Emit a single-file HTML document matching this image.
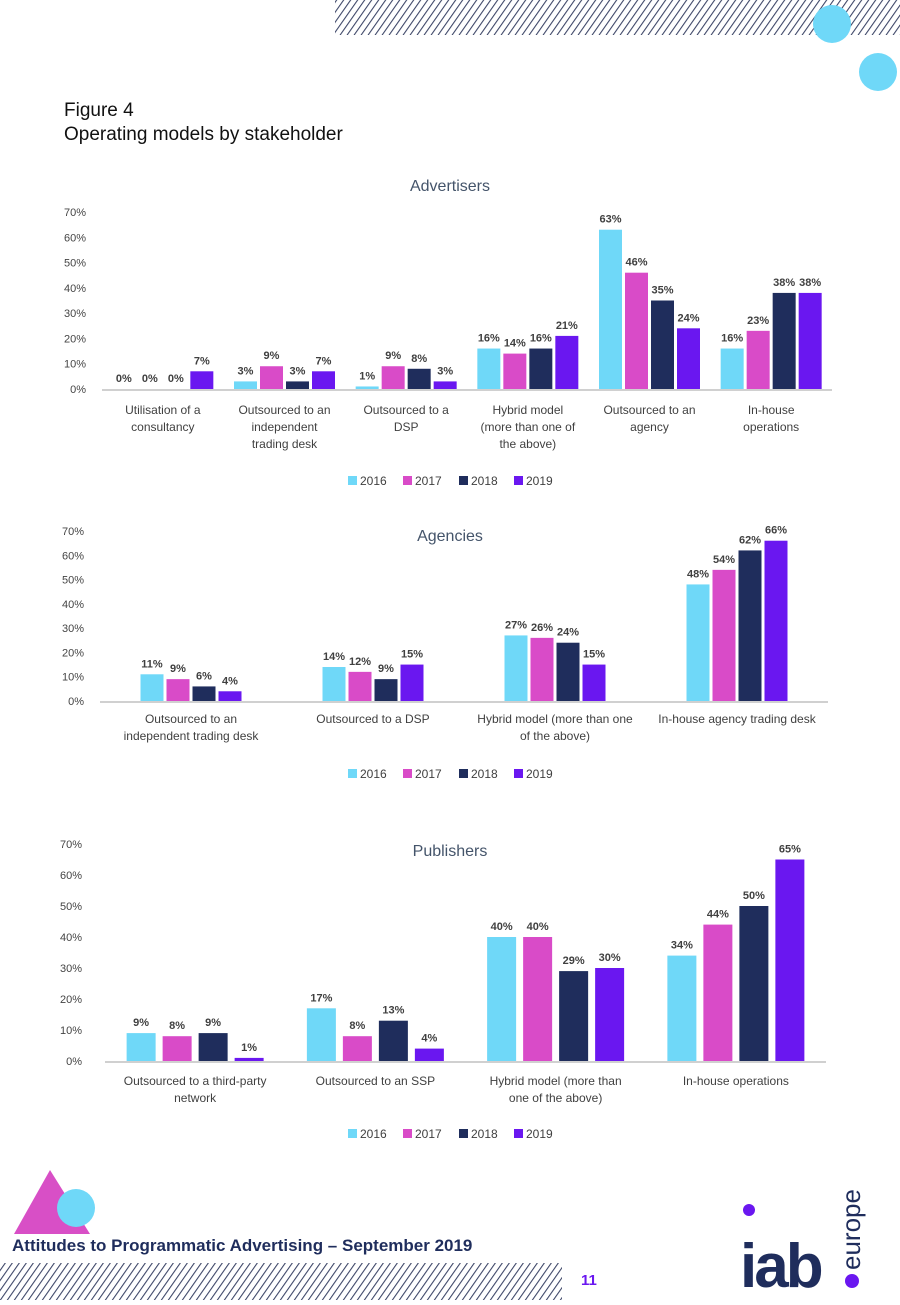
<!DOCTYPE html>
<html><head><meta charset="utf-8">
<style>
body{margin:0;background:#fff;}
svg text{font-family:"Liberation Sans",sans-serif;}
</style></head>
<body>
<svg id="page" width="900" height="1300" viewBox="0 0 900 1300" xmlns="http://www.w3.org/2000/svg">
<defs>
<pattern id="hatch" width="7" height="7" patternUnits="userSpaceOnUse" patternTransform="skewX(-35)">
<rect x="0" y="0" width="1.3" height="7" fill="#3b4466"/>
</pattern>
</defs>
<rect x="335" y="0" width="565" height="35" fill="url(#hatch)"/>
<circle cx="832" cy="24" r="19" fill="#6fd8f8"/>
<circle cx="878" cy="72" r="19" fill="#6fd8f8"/>
<text x="64" y="116" font-size="19" fill="#111">Figure 4</text>
<text x="64" y="140" font-size="19" fill="#111">Operating models by stakeholder</text>
<g id="c1"></g>
<g id="c2"></g>
<g id="c3"></g>
<polygon points="14,1234 50,1170 90,1234" fill="#d84fc6"/>
<circle cx="76" cy="1208" r="19" fill="#6fd8f8"/>
<text x="12" y="1251" font-size="17" font-weight="bold" fill="#1f2d5c">Attitudes to Programmatic Advertising – September 2019</text>
<rect x="0" y="1263" width="562" height="37" fill="url(#hatch)"/>
<text x="581" y="1285" font-size="15" font-weight="bold" fill="#6a17f0">11</text>
<g>
<text x="740" y="1287" font-size="62" font-weight="bold" fill="#1f2d5c" letter-spacing="-3">iab</text>
<circle cx="749" cy="1210" r="6" fill="#6a17f0"/>
<circle cx="852" cy="1281" r="7" fill="#6a17f0"/>
<text transform="translate(860,1270) rotate(-90)" font-size="26" fill="#1f2d5c">europe</text>
</g>
</svg>
<script>
const years = ["2016","2017","2018","2019"];
const colors = ["#6fd8f8","#d94bc8","#1f2d5c","#6a17f0"];
const yTicks = ["0%","10%","20%","30%","40%","50%","60%","70%"];

const advCategories = [["Utilisation of a","consultancy"],["Outsourced to an","independent","trading desk"],["Outsourced to a","DSP"],["Hybrid model","(more than one of","the above)"],["Outsourced to an","agency"],["In-house","operations"]];
const adv2016 = [0,3,1,16,63,16];
const adv2017 = [0,9,9,14,46,23];
const adv2018 = [0,3,8,16,35,38];
const adv2019 = [7,7,3,21,24,38];

const agCategories = [["Outsourced to an","independent trading desk"],["Outsourced to a DSP"],["Hybrid model (more than one","of the above)"],["In-house agency trading desk"]];
const ag2016 = [11,14,27,48];
const ag2017 = [9,12,26,54];
const ag2018 = [6,9,24,62];
const ag2019 = [4,15,15,66];

const pubCategories = [["Outsourced to a third-party","network"],["Outsourced to an SSP"],["Hybrid model (more than","one of the above)"],["In-house operations"]];
const pub2016 = [9,17,40,34];
const pub2017 = [8,8,40,44];
const pub2018 = [9,13,29,50];
const pub2019 = [1,4,30,65];

const NS="http://www.w3.org/2000/svg";
function mk(parent,tag,attrs,txt){const e=document.createElementNS(NS,tag);for(const k in attrs)e.setAttribute(k,attrs[k]);if(txt!==undefined)e.textContent=txt;parent.appendChild(e);return e;}

function drawChart(g,cfg){
  const {title,titleY,x0,x1,y0,y70,cats,series,barW,step,labY,legY,tickX}=cfg;
  const yScale=v=>y0-(v/70)*(y0-y70);
  const t=mk(g,"text",{x:450,y:titleY,"font-size":16,fill:"#44546a","text-anchor":"middle"},title);
  
  
  yTicks.forEach((lab,i)=>{
    const tt=mk(g,"text",{x:tickX,y:yScale(i*10)+4,"font-size":11,fill:"#444","text-anchor":"end"},lab);
    
    
  });
  const ax=mk(g,"line",{x1:x0,x2:x1,y1:y0+1,y2:y0+1,stroke:"#d0d0d0","stroke-width":2});
  
  
  const cw=(x1-x0)/cats.length;
  cats.forEach((lines,ci)=>{
    const cx=x0+cw*(ci+0.5);
    series.forEach((vals,si)=>{
      const bx=cx+(si-1.5)*step-barW/2;
      const v=vals[ci];
      const by=yScale(v);
      const r=mk(g,"rect",{x:bx,y:by,width:barW,height:Math.max(y0-by,0),fill:colors[si]});
      
      
      const l=mk(g,"text",{x:bx+barW/2,y:by-7,"font-size":11,"font-weight":"bold",fill:"#404040","text-anchor":"middle"},v+"%");
      
      
    });
    lines.forEach((ln,li)=>{
      const c=mk(g,"text",{x:cx,y:labY+li*17,"font-size":12,fill:"#404040","text-anchor":"middle"},ln);
      
      
    });
  });
  const lx=[348,403,459,514];
  years.forEach((yr,i)=>{
    const s=mk(g,"rect",{x:lx[i],y:legY-9,width:9,height:9,fill:colors[i]});
    
    
    const tx=mk(g,"text",{x:lx[i]+12,y:legY,"font-size":12,fill:"#404040"},yr);
    
    
  });
}
drawChart(document.getElementById("c1"),{title:"Advertisers",titleY:191,x0:102,x1:832,y0:389,y70:212,cats:advCategories,series:[adv2016,adv2017,adv2018,adv2019],barW:23,step:26,labY:414,legY:485,tickX:86});
drawChart(document.getElementById("c2"),{title:"Agencies",titleY:541,x0:100,x1:828,y0:701,y70:531,cats:agCategories,series:[ag2016,ag2017,ag2018,ag2019],barW:23,step:26,labY:723,legY:778,tickX:84});
drawChart(document.getElementById("c3"),{title:"Publishers",titleY:856,x0:105,x1:826,y0:1061,y70:844,cats:pubCategories,series:[pub2016,pub2017,pub2018,pub2019],barW:29,step:36,labY:1085,legY:1138,tickX:82});
</script>
</body></html>
